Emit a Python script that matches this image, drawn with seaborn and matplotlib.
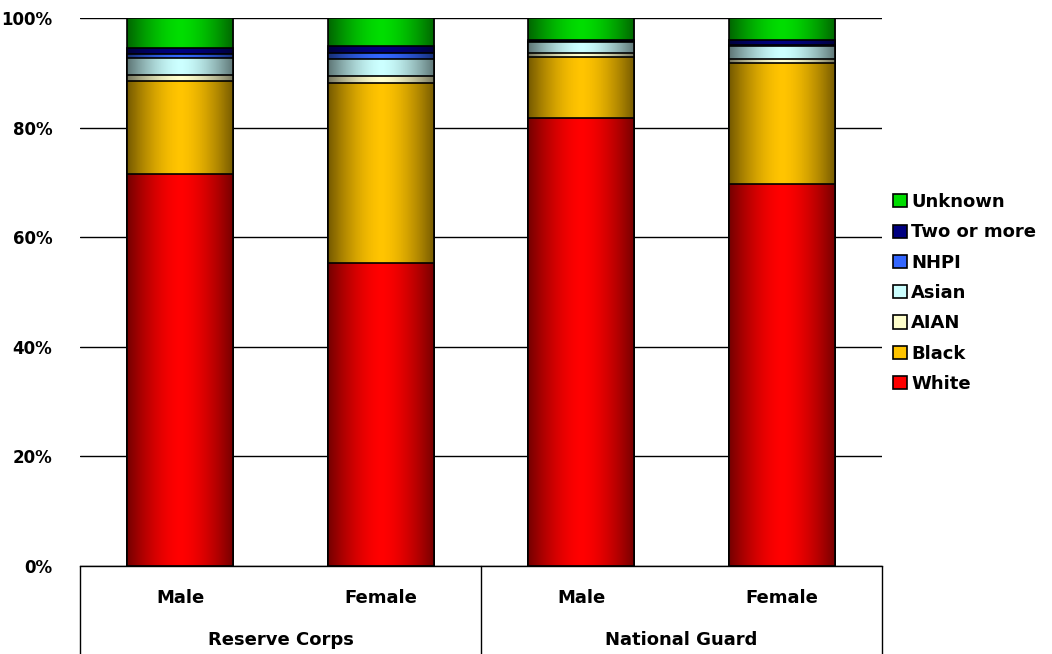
import numpy as np
import pandas as pd
import matplotlib
matplotlib.use("Agg")
import matplotlib.pyplot as plt
import seaborn as sns
from matplotlib.patches import Patch
from matplotlib.lines import Line2D

# data (percent of each column)
bars = ["RC Male", "RC Female", "NG Male", "NG Female"]
sex_labels = ["Male", "Female", "Male", "Female"]
groups = ["Reserve Corps", "National Guard"]
races = ["White", "Black", "AIAN", "Asian", "NHPI", "Two or more", "Unknown"]
white = [71.5, 55.3, 81.7, 69.7]
black = [17.0, 32.8, 11.2, 22.0]
aian = [1.1, 1.4, 0.8, 0.9]
asian = [3.1, 3.1, 1.9, 2.3]
nhpi = [0.7, 1.1, 0.1, 0.1]
two_more = [1.1, 1.1, 0.3, 1.0]
unknown = [5.5, 5.2, 4.0, 4.0]
colors = ["#ff0000", "#ffc400", "#ffffcc", "#ccffff", "#3366ff", "#000080", "#00dd00"]

sns.set_theme(style="white")
plt.rcParams["font.family"] = ["DejaVu Sans"]
plt.rcParams["text.color"] = "black"
plt.rcParams["ytick.color"] = "black"

df = pd.DataFrame({"bar": bars, "White": white, "Black": black, "AIAN": aian,
                   "Asian": asian, "NHPI": nhpi, "Two or more": two_more,
                   "Unknown": unknown})
cum = df[races].cumsum(axis=1)
cum = cum.div(cum["Unknown"], axis=0) * 100

fig = plt.figure(figsize=(10.52, 6.54), dpi=100)
ax = fig.add_axes([80 / 1052, 1 - 566 / 654, 802 / 1052, 548 / 654])

# stacked bars: draw cumulative totals from the top segment down
for race, col in zip(races[::-1], colors[::-1]):
    sns.barplot(x=df["bar"], y=cum[race], color=col, width=0.53,
                edgecolor="black", linewidth=1.2, saturation=1, ax=ax)

# cylinder-like shading over each bar
grad = np.abs(np.linspace(-1, 1, 200)) ** 1.6
shade = np.zeros((1, 200, 4))
shade[..., 3] = grad * 0.55
for i in range(len(bars)):
    ax.imshow(shade, extent=[i - 0.265, i + 0.265, 0, 100], aspect="auto",
              interpolation="bicubic", zorder=3)

ax.set_xlim(-0.5, 3.5)
ax.set_ylim(0, 100)
ax.set_yticks(range(0, 101, 20))
ax.set_yticklabels([f"{v}%" for v in range(0, 101, 20)],
                   fontsize=12, fontweight="bold", color="black")
ax.tick_params(axis="y", pad=20, length=0)
ax.yaxis.grid(True, color="black", linewidth=1)
ax.set_axisbelow(True)
ax.set_xticks([])
ax.set_xlabel("")
ax.set_ylabel("")
for s in ["left", "right", "top"]:
    ax.spines[s].set_visible(False)
ax.spines["bottom"].set_color("black")
ax.spines["bottom"].set_linewidth(1)

# category box under the axis
tr = ax.get_xaxis_transform()
for xv in [-0.5, 1.5, 3.5]:
    ax.add_line(Line2D([xv, xv], [0, -0.2], color="black", lw=1,
                       transform=tr, clip_on=False))
for i, lab in enumerate(sex_labels):
    ax.text(i, -0.058, lab, transform=tr, ha="center", va="center",
            fontsize=13, fontweight="bold", color="black", clip_on=False)
for j, g in enumerate(groups):
    ax.text(0.5 + 2 * j, -0.135, g, transform=tr, ha="center", va="center",
            fontsize=13, fontweight="bold", color="black", clip_on=False)

handles = [Patch(facecolor=c, edgecolor="black", linewidth=1.2, label=r)
           for r, c in zip(races[::-1], colors[::-1])]
leg = fig.legend(handles=handles, loc="center left",
                 bbox_to_anchor=(893 / 1052, 1 - 293 / 654), frameon=False,
                 prop={"size": 13, "weight": "bold"}, handlelength=0.75,
                 handleheight=0.75, handletextpad=0.25, labelspacing=0.68,
                 borderaxespad=0, borderpad=0)
for t in leg.get_texts():
    t.set_color("black")

fig.savefig("out.png", dpi=100)
